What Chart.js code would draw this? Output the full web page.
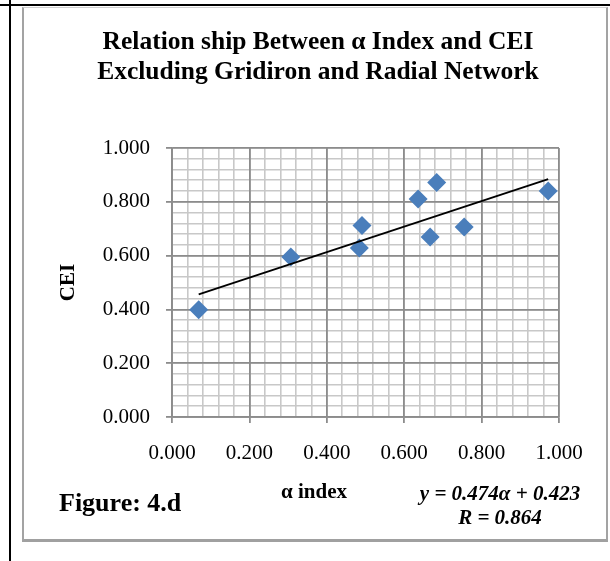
<!DOCTYPE html>
<html>
<head>
<meta charset="utf-8">
<script src="https://cdn.jsdelivr.net/npm/chart.js@4.4.1/dist/chart.umd.min.js"></script>
<style>
  html, body { margin: 0; padding: 0; background: #fff; }
  #page { position: relative; width: 610px; height: 561px; overflow: hidden; font-family: "Liberation Serif", "Times New Roman", serif; }
  .rule { position: absolute; background: #000; }
  #box { position: absolute; left: 22px; top: 7px; width: 582px; height: 531px;
         border-left: 2px solid #a3a3a3; border-right: 2px solid #a3a3a3;
         border-top: 1px solid #cfcfcf; border-bottom: 3px solid #a0a0a0; }
  #chartWrap { position: absolute; left: 0; top: 0; width: 610px; height: 561px; }
  .txt { position: absolute; font-weight: bold; color: #000; white-space: nowrap; }
  #title { left: 18px; width: 600px; top: 26px; text-align: center; font-size: 25.5px; line-height: 30px; }
  #figLabel { left: 59px; top: 490px; font-size: 26px; line-height: 26px; }
  #xTitle { left: 214px; width: 200px; top: 481px; text-align: center; font-size: 21px; line-height: 21px; }
  #equation { left: 400px; width: 200px; top: 481px; text-align: center; font-size: 21px; line-height: 24px; font-style: italic; }
</style>
</head>
<body>
<div id="page">
  <div class="rule" style="left:0;top:4px;width:610px;height:2px;"></div>
  <div class="rule" style="left:9px;top:0;width:2px;height:561px;"></div>
  <div id="box"></div>
  <div id="chartWrap"><canvas id="chart" width="610" height="561"></canvas></div>
  <div id="title" class="txt">Relation ship Between α Index and CEI<br>Excluding Gridiron and Radial Network</div>
  <div id="figLabel" class="txt">Figure: 4.d</div>
  <div id="xTitle" class="txt">α index</div>
  <div id="equation" class="txt">y = 0.474α + 0.423<br>R = 0.864</div>
</div>
<script>
// values
const alphaIndex = [0.069, 0.307, 0.484, 0.491, 0.636, 0.684, 0.667, 0.755, 0.972];
const ceiValues  = [0.399, 0.595, 0.628, 0.712, 0.810, 0.872, 0.669, 0.706, 0.840];

// linear trend line end points
const trendAlpha = [0.069, 0.972];
const trendCei   = [0.456, 0.884];

// axis settings
const axisMin = 0;
const axisMax = 1;
const majorStep = 0.2;
const minorStep = 0.04;

const serif = "'Liberation Serif', 'Times New Roman', serif";
const majorGrid = "#8c8c8c";
const minorGrid = "#c8c8c8";

const points = alphaIndex.map((a, i) => ({ x: a, y: ceiValues[i] }));
const trend = trendAlpha.map((a, i) => ({ x: a, y: trendCei[i] }));

const ctx = document.getElementById("chart").getContext("2d");

new Chart(ctx, {
  type: "scatter",
  data: {
    datasets: [
      {
        label: "Trend",
        data: trend,
        showLine: true,
        borderColor: "#000",
        borderWidth: 1.8,
        pointRadius: 0,
        fill: false
      },
      {
        label: "CEI",
        data: points,
        pointStyle: "rectRot",
        pointRadius: 9.5,
        backgroundColor: "#4a7ebb",
        borderColor: "#4a7ebb",
        borderWidth: 0
      }
    ]
  },
  options: {
    responsive: false,
    animation: false,
    events: [],
    layout: { padding: { left: 56, top: 148, right: 51, bottom: 94 } },
    plugins: {
      legend: { display: false },
      tooltip: { enabled: false }
    },
    scales: {
      xMinor: {
        type: "linear", position: "bottom", min: axisMin, max: axisMax,
        ticks: { display: false, stepSize: minorStep },
        grid: { color: minorGrid, lineWidth: 1.6, drawTicks: false, z: -2 },
        border: { display: false }
      },
      yMinor: {
        type: "linear", position: "left", min: axisMin, max: axisMax,
        ticks: { display: false, stepSize: minorStep },
        grid: { color: minorGrid, lineWidth: 1.6, drawTicks: false, z: -2 },
        border: { display: false }
      },
      x: {
        type: "linear", position: "bottom", min: axisMin, max: axisMax,
        ticks: {
          stepSize: majorStep, padding: 18, color: "#000", maxRotation: 0,
          font: { family: serif, size: 21 },
          callback: v => v.toFixed(3)
        },
        grid: { color: majorGrid, lineWidth: 1.8, tickLength: 6, tickColor: majorGrid },
        border: { color: majorGrid, width: 1.8 },
        afterFit: s => { s.height = 50; }
      },
      y: {
        type: "linear", position: "left", min: axisMin, max: axisMax,
        ticks: {
          stepSize: majorStep, padding: 16, color: "#000",
          font: { family: serif, size: 21 },
          callback: v => v.toFixed(3)
        },
        grid: { color: majorGrid, lineWidth: 1.8, tickLength: 6, tickColor: majorGrid },
        border: { color: majorGrid, width: 1.8 },
        title: {
          display: true, text: "CEI", color: "#000",
          padding: { top: 0, bottom: 0 },
          font: { family: serif, size: 21, weight: "bold" }
        },
        afterFit: s => { s.width = 116; }
      }
    }
  }
});
</script>
</body>
</html>
